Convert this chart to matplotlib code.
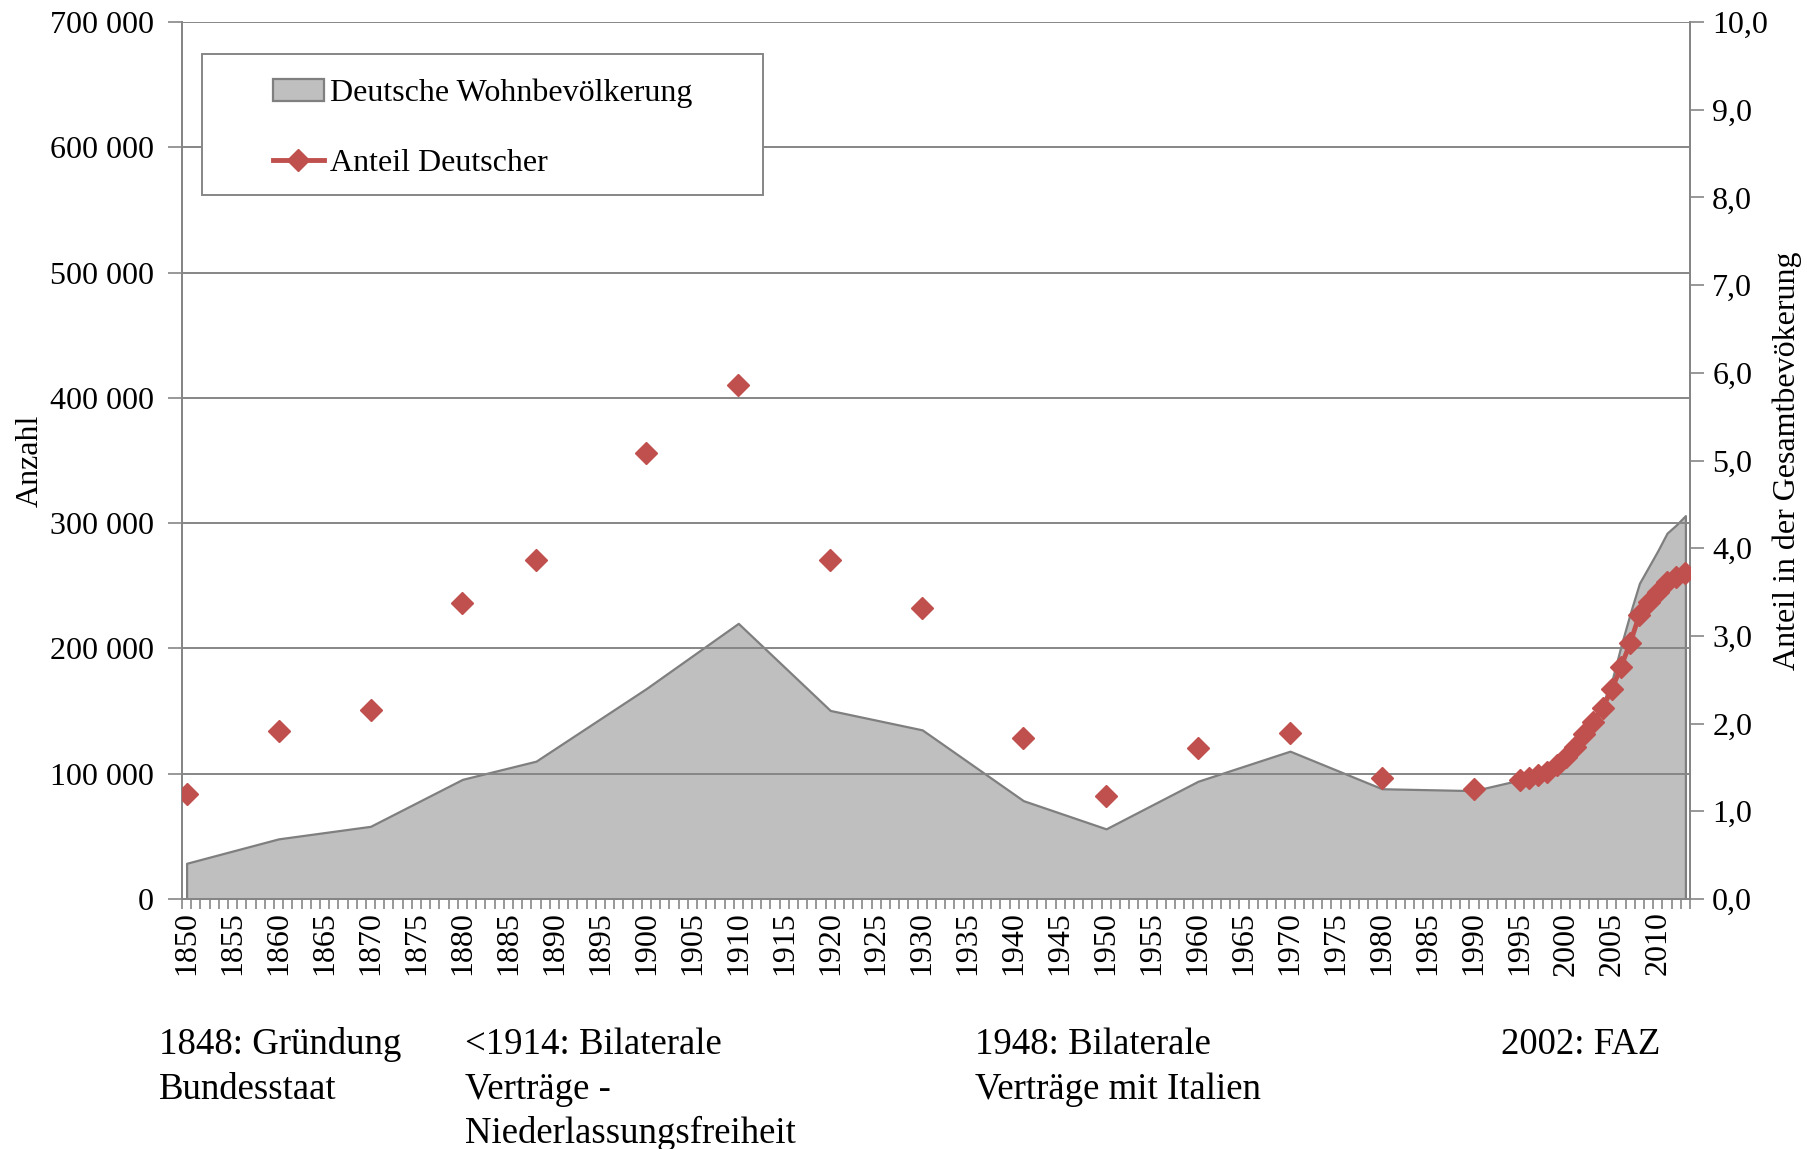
import numpy as np
import matplotlib
matplotlib.use("Agg")
import matplotlib.pyplot as plt
from matplotlib.patches import Rectangle, Patch
from matplotlib.lines import Line2D
from matplotlib.ticker import FuncFormatter, FixedLocator

plt.rcParams['font.family'] = ['Liberation Serif', 'DejaVu Serif']

# Census years and annual values since 1995
years = [1850, 1860, 1870, 1880, 1888, 1900, 1910, 1920, 1930, 1941, 1950,
         1960, 1970, 1980, 1990, 1995, 1996, 1997, 1998, 1999, 2000, 2001,
         2002, 2003, 2004, 2005, 2006, 2007, 2008, 2009, 2010, 2011, 2012, 2013]

# German resident population (left axis)
population = [28500, 48000, 58000, 95500, 110000, 168000, 220000, 150500,
              135000, 78500, 56000, 94000, 118000, 88000, 86500, 95000, 97000,
              100000, 103000, 108500, 115000, 122000, 131000, 142000, 156000,
              174000, 202000, 228000, 252000, 265000, 278000, 292000, 298500,
              306000]

# Share of Germans in total population, percent (right axis)
share = [1.20, 1.91, 2.16, 3.37, 3.86, 5.09, 5.86, 3.87, 3.32, 1.84, 1.17,
         1.72, 1.89, 1.38, 1.25, 1.36, 1.38, 1.41, 1.45, 1.53, 1.62, 1.73,
         1.88, 2.02, 2.18, 2.39, 2.65, 2.92, 3.24, 3.39, 3.50, 3.62, 3.67,
         3.72]

events = [
    ["1848: Gründung", "Bundesstaat"],
    ["<1914: Bilaterale", "Verträge -", "Niederlassungsfreiheit"],
    ["1948: Bilaterale", "Verträge mit Italien"],
    ["2002: FAZ"],
]

W, H = 1808, 1149
fig = plt.figure(figsize=(W / 100, H / 100), dpi=100)
ax = fig.add_axes([182 / W, 1 - 899 / H, (1690 - 182) / W, (899 - 22) / H])
ax2 = ax.twinx()

grey = '#868686'
red = '#C0504D'
fs = 23

# Area series
ax.fill_between(years, population, 0, facecolor='#BFBFBF', edgecolor='#7F7F7F',
                linewidth=1.6, zorder=1)
ax.set_ylim(0, 700000)
ax.set_xlim(1849.5, 2013.5)
ax.yaxis.set_major_locator(FixedLocator(np.arange(0, 700001, 100000)))
ax.yaxis.set_major_formatter(FuncFormatter(lambda v, p: f"{int(v):,}".replace(",", " ")))
ax.grid(axis='y', color=grey, linewidth=1.4)
ax.set_axisbelow(False)

# Category-style x axis: boundaries as ticks, labels every five years
ax.set_xticks(np.arange(1850, 2011, 5))
ax.set_xticklabels([str(y) for y in range(1850, 2011, 5)], rotation=90, fontsize=fs)
ax.set_xticks(np.arange(1849.5, 2014, 1), minor=True)
ax.tick_params(axis='x', which='major', length=0, pad=9)
ax.tick_params(axis='x', which='minor', length=7, width=1.2, color=grey, direction='out')
ax.tick_params(axis='y', length=10, width=1.2, color=grey, labelsize=fs, pad=10)

for a in (ax, ax2):
    a.spines['top'].set_visible(False)
    for s in ('left', 'right', 'bottom'):
        a.spines[s].set_color(grey)
        a.spines[s].set_linewidth(1.4)

# Share series: gaps between census years leave points unconnected
all_years = np.arange(1850, 2014)
share_full = np.full(all_years.shape, np.nan)
for y, v in zip(years, share):
    share_full[y - 1850] = v
ax2.plot(all_years, share_full, color=red, linewidth=3.5, marker='D',
         markersize=11, markeredgecolor=red, zorder=3)
ax2.set_ylim(0, 10)
ax2.yaxis.set_major_locator(FixedLocator(np.arange(0, 10.01, 1)))
ax2.yaxis.set_major_formatter(FuncFormatter(lambda v, p: f"{v:.1f}".replace(".", ",")))
ax2.tick_params(axis='y', length=10, width=1.2, color=grey, labelsize=fs, pad=6)

ax.set_ylabel("Anzahl", fontsize=fs, labelpad=4)
ax2.set_ylabel("Anteil in der Gesamtbevökerung", fontsize=fs, labelpad=3)

# Legend with a wider frame
frame = Rectangle((202 / W, 1 - 195 / H), (763 - 202) / W, (195 - 54) / H,
                  transform=fig.transFigure, facecolor='white', edgecolor=grey,
                  linewidth=1.4, zorder=5)
fig.patches.append(frame)
handles = [Patch(facecolor='#BFBFBF', edgecolor='#7F7F7F', linewidth=1.6),
           Line2D([], [], color=red, linewidth=3.5, marker='D', markersize=11)]
leg = fig.legend(handles, ["Deutsche Wohnbevölkerung", "Anteil Deutscher"],
                 loc='upper left', bbox_to_anchor=(247 / W, 1 - 53 / H),
                 frameon=False, fontsize=fs, handlelength=1.6, handletextpad=0.2,
                 labelspacing=1.28, borderpad=0.3)
leg.set_zorder(6)

# Event notes under the axis
note_x = [159, 465, 975, 1501]
baselines = [1054, 1099, 1143]
for x, lines in zip(note_x, events):
    for yb, line in zip(baselines, lines):
        fig.text(x / W, 1 - yb / H, line, fontsize=26.5, va='baseline', ha='left')

fig.savefig("out.png", dpi=100)
